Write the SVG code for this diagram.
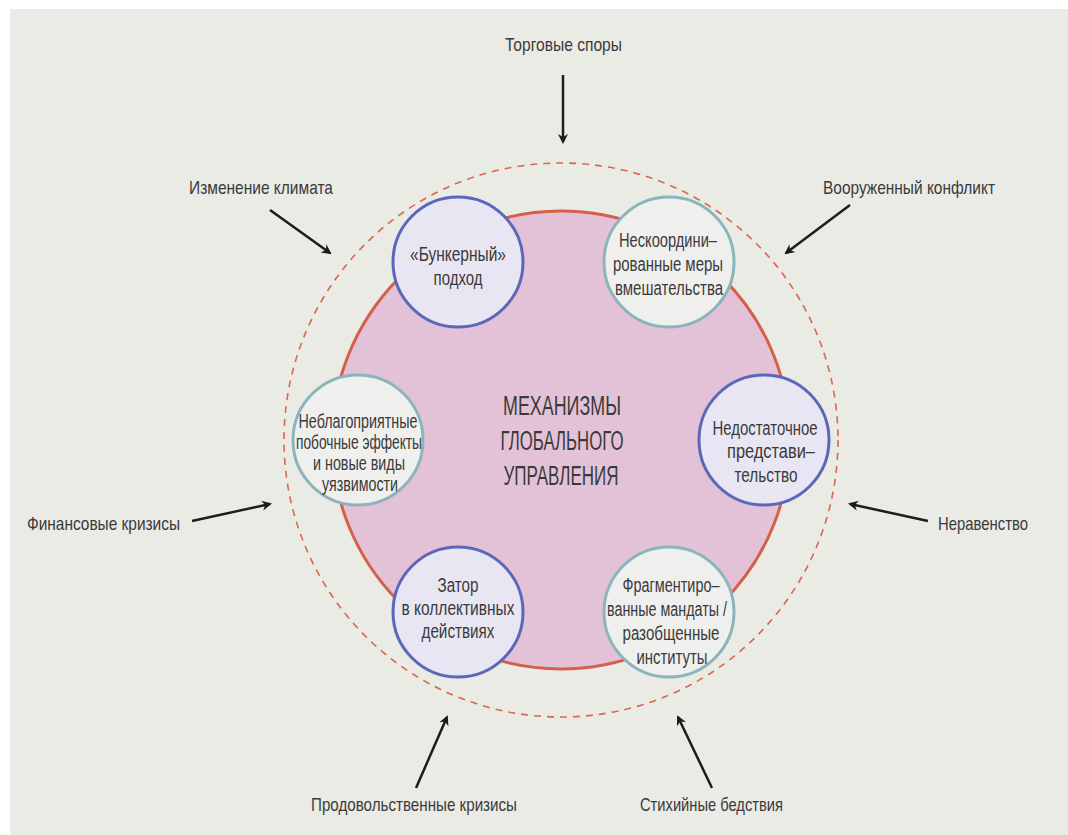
<svg xmlns="http://www.w3.org/2000/svg" width="1068" height="835" viewBox="0 0 1068 835">
<defs>
<marker id="ah" viewBox="0 0 10 10" refX="8" refY="5" markerWidth="4" markerHeight="4" orient="auto" markerUnits="strokeWidth">
<path d="M0,0 L10,5 L0,10 L3,5 Z" fill="#1c1c1c"/>
</marker>
<style>
text{font-family:"Liberation Sans Narrow","Liberation Sans",Arial,sans-serif;fill:#3a3a3a;text-anchor:middle;}
.lab{font-size:19px;}
.in{font-size:20px;}
.ctr{font-size:27px;}
.blue{fill:#e8e6f3;stroke:#5b67b9;stroke-width:3;}
.teal{fill:#eff0ee;stroke:#8bb5bb;stroke-width:3;}
.arr{stroke:#1c1c1c;stroke-width:2.5;fill:none;marker-end:url(#ah);}
</style>
</defs>
<rect x="0" y="0" width="1068" height="835" fill="#ffffff"/>
<rect x="10" y="9" width="1058" height="826" fill="#ebebe6"/>

<g id="outer-ring">
<circle cx="561" cy="440" r="277" fill="none" stroke="#d9674d" stroke-width="1.6" stroke-dasharray="7 6"/>
</g>

<g id="core">
<circle cx="561" cy="440" r="229" fill="#e3c2d8" stroke="#d4604a" stroke-width="3"/>
<text class="ctr" x="562" y="415" textLength="118" lengthAdjust="spacingAndGlyphs">МЕХАНИЗМЫ</text>
<text class="ctr" x="562" y="450" textLength="123" lengthAdjust="spacingAndGlyphs">ГЛОБАЛЬНОГО</text>
<text class="ctr" x="561" y="485" textLength="115" lengthAdjust="spacingAndGlyphs">УПРАВЛЕНИЯ</text>
</g>

<g id="n-bunker">
<circle class="blue" cx="458" cy="262" r="65"/>
<text class="in" x="458" y="261" textLength="96" lengthAdjust="spacingAndGlyphs">«Бункерный»</text>
<text class="in" x="458" y="285" textLength="49" lengthAdjust="spacingAndGlyphs">подход</text>
</g>

<g id="n-uncoord">
<circle class="teal" cx="669" cy="262" r="65"/>
<text class="in" x="668" y="247" textLength="98" lengthAdjust="spacingAndGlyphs">Нескоордини–</text>
<text class="in" x="668" y="271" textLength="110" lengthAdjust="spacingAndGlyphs">рованные меры</text>
<text class="in" x="669" y="295" textLength="108" lengthAdjust="spacingAndGlyphs">вмешательства</text>
</g>

<g id="n-adverse">
<circle class="teal" cx="358" cy="440" r="65"/>
<text class="in" x="358" y="428" textLength="119" lengthAdjust="spacingAndGlyphs">Неблагоприятные</text>
<text class="in" x="359" y="449" textLength="126" lengthAdjust="spacingAndGlyphs">побочные эффекты</text>
<text class="in" x="359" y="470" textLength="92" lengthAdjust="spacingAndGlyphs">и новые виды</text>
<text class="in" x="360" y="491" textLength="76" lengthAdjust="spacingAndGlyphs">уязвимости</text>
</g>

<g id="n-represent">
<circle class="blue" cx="764" cy="440" r="65"/>
<text class="in" x="765" y="435" textLength="105" lengthAdjust="spacingAndGlyphs">Недостаточное</text>
<text class="in" x="771" y="458" textLength="88" lengthAdjust="spacingAndGlyphs">представи–</text>
<text class="in" x="766" y="482" textLength="63" lengthAdjust="spacingAndGlyphs">тельство</text>
</g>

<g id="n-gridlock">
<circle class="blue" cx="458" cy="612" r="65"/>
<text class="in" x="458" y="592" textLength="41" lengthAdjust="spacingAndGlyphs">Затор</text>
<text class="in" x="458" y="615" textLength="113" lengthAdjust="spacingAndGlyphs">в коллективных</text>
<text class="in" x="458" y="638" textLength="73" lengthAdjust="spacingAndGlyphs">действиях</text>
</g>

<g id="n-fragment">
<circle class="teal" cx="669" cy="612" r="65"/>
<text class="in" x="671" y="592" textLength="97" lengthAdjust="spacingAndGlyphs">Фрагментиро–</text>
<text class="in" x="667" y="616" textLength="120" lengthAdjust="spacingAndGlyphs">ванные мандаты /</text>
<text class="in" x="671" y="640" textLength="97" lengthAdjust="spacingAndGlyphs">разобщенные</text>
<text class="in" x="672" y="664" textLength="71" lengthAdjust="spacingAndGlyphs">институты</text>
</g>

<g id="labels">
<text class="lab" x="563.5" y="51" textLength="117" lengthAdjust="spacingAndGlyphs">Торговые споры</text>
<text class="lab" x="261" y="194" textLength="144" lengthAdjust="spacingAndGlyphs">Изменение климата</text>
<text class="lab" x="909" y="194" textLength="172" lengthAdjust="spacingAndGlyphs">Вооруженный конфликт</text>
<text class="lab" x="103.5" y="530" textLength="153" lengthAdjust="spacingAndGlyphs">Финансовые кризисы</text>
<text class="lab" x="983" y="530" textLength="90" lengthAdjust="spacingAndGlyphs">Неравенство</text>
<text class="lab" x="414" y="811" textLength="206" lengthAdjust="spacingAndGlyphs">Продовольственные кризисы</text>
<text class="lab" x="711.5" y="811" textLength="143" lengthAdjust="spacingAndGlyphs">Стихийные бедствия</text>
</g>

<g id="connectors">
<line class="arr" x1="563" y1="75" x2="563" y2="142"/>
<line class="arr" x1="270" y1="210" x2="330" y2="253"/>
<line class="arr" x1="850" y1="205" x2="786" y2="253"/>
<line class="arr" x1="192" y1="521" x2="270" y2="504"/>
<line class="arr" x1="928" y1="521" x2="850" y2="504"/>
<line class="arr" x1="416" y1="788" x2="447" y2="717"/>
<line class="arr" x1="712" y1="788" x2="678" y2="717"/>
</g>
</svg>
